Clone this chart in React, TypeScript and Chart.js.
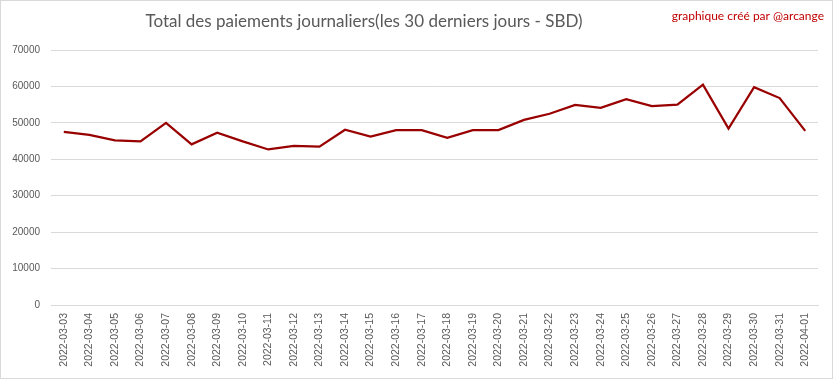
import React, { useEffect, useRef } from "react";
import { Chart, registerables } from "chart.js";

Chart.register(...registerables);

const dates = [
  "2022-03-03", "2022-03-04", "2022-03-05", "2022-03-06", "2022-03-07",
  "2022-03-08", "2022-03-09", "2022-03-10", "2022-03-11", "2022-03-12",
  "2022-03-13", "2022-03-14", "2022-03-15", "2022-03-16", "2022-03-17",
  "2022-03-18", "2022-03-19", "2022-03-20", "2022-03-21", "2022-03-22",
  "2022-03-23", "2022-03-24", "2022-03-25", "2022-03-26", "2022-03-27",
  "2022-03-28", "2022-03-29", "2022-03-30", "2022-03-31", "2022-04-01",
];

const payments = [
  47550, 46700, 45200, 44900, 50000,
  44100, 47300, 44900, 42700, 43700,
  43450, 48100, 46200, 48000, 48000,
  45900, 48000, 48000, 50800, 52500,
  54900, 54100, 56500, 54600, 55000,
  60500, 48450, 59800, 56800, 47800,
];

const titleText = "Total des paiements journaliers(les 30 derniers jours - SBD)";
const creditText = "graphique créé par @arcange";

const yMax = 70000;
const yStep = 10000;

const decorPlugin = {
  id: "decor",
  afterDraw(chart: any) {
    const ctx = chart.ctx;
    ctx.save();
    ctx.strokeStyle = "#d9d9d9";
    ctx.lineWidth = 1;
    ctx.strokeRect(0.5, 0.5, chart.width - 1, chart.height - 1);
    ctx.textBaseline = "middle";
    ctx.fillStyle = "#595959";
    ctx.font = "17px 'Liberation Sans Narrow', Lato, sans-serif";
    ctx.textAlign = "center";
    ctx.fillText(titleText, 364, 22);
    ctx.fillStyle = "#c00000";
    ctx.font = "12px 'Liberation Sans Narrow', Lato, sans-serif";
    ctx.textAlign = "right";
    ctx.fillText(creditText, 824, 16);
    ctx.restore();
  },
};

export default function App() {
  const ref = useRef<HTMLCanvasElement>(null);
  useEffect(() => {
    document.body.style.margin = "0";
    const chart = new Chart(ref.current!, {
      type: "line",
      data: {
        labels: dates,
        datasets: [
          {
            data: payments,
            borderColor: "#990000",
            borderWidth: 2.25,
            pointRadius: 0,
            tension: 0,
            fill: false,
          },
        ],
      },
      options: {
        responsive: false,
        animation: false,
        layout: { padding: { left: 0, right: 15, top: 50, bottom: 0 } },
        plugins: { legend: { display: false }, tooltip: { enabled: false } },
        scales: {
          x: {
            offset: true,
            grid: { display: false, drawTicks: false },
            border: { display: true, color: "#d9d9d9" },
            ticks: {
              color: "#595959",
              font: { family: "'Liberation Sans', sans-serif", size: 10.5 },
              maxRotation: 90,
              minRotation: 90,
              autoSkip: false,
              padding: 8,
            },
            afterFit: (s: any) => {
              s.height = 74;
            },
          },
          y: {
            min: 0,
            max: yMax,
            grid: { color: "#d9d9d9", drawTicks: false },
            border: { display: false },
            ticks: {
              stepSize: yStep,
              color: "#595959",
              font: { family: "'Liberation Sans', sans-serif", size: 10 },
              padding: 11,
              callback: (v: any) => String(v),
            },
            afterFit: (s: any) => {
              s.width = 51;
            },
          },
        },
      },
      plugins: [decorPlugin],
    });
    return () => chart.destroy();
  }, []);
  return <canvas ref={ref} width={833} height={379} style={{ display: "block" }} />;
}
